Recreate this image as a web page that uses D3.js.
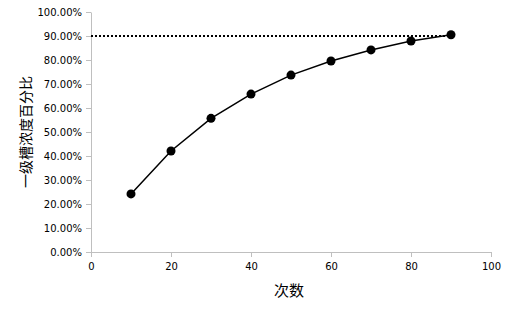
<!DOCTYPE html>
<html>
<head>
<meta charset="utf-8">
<script src="https://cdn.jsdelivr.net/npm/d3@7"></script>
<style>
  body { margin: 0; background: #fff; }
  svg text { font-family: "DejaVu Sans", sans-serif; }
</style>
</head>
<body>
<svg id="chart"></svg>
<script>
// data
const runs = [10, 20, 30, 40, 50, 60, 70, 80, 90];
const percent = [24.2, 42.1, 55.7, 65.8, 73.7, 79.6, 84.2, 87.9, 90.5];
const target = 90;
const xTicks = [0, 20, 40, 60, 80, 100];
const yTicks = [0, 10, 20, 30, 40, 50, 60, 70, 80, 90, 100];
const xTitle = "次数";
const yTitle = "一级槽浓度百分比";

const width = 508, height = 314;
const margin = { top: 12, right: 17, bottom: 62, left: 91 };

const svg = d3.select("#chart").attr("width", width).attr("height", height);
const plot = svg.append("g").attr("transform", `translate(${margin.left}, ${margin.top})`);

const plotWidth = width - margin.left - margin.right;
const plotHeight = height - margin.top - margin.bottom;

const xScale = d3.scaleLinear().domain([0, 100]).range([0, plotWidth]);
const yScale = d3.scaleLinear().domain([0, 100]).range([plotHeight, 0]);

const axisColor = "#bfbfbf";

// axes
const xAxisG = plot.append("g")
  .attr("transform", `translate(0, ${plotHeight})`)
  .call(d3.axisBottom(xScale).tickValues(xTicks).tickSize(5).tickPadding(6).tickSizeOuter(0));
const yAxisG = plot.append("g")
  .call(d3.axisLeft(yScale).tickValues(yTicks).tickSize(5).tickPadding(4).tickSizeOuter(0)
    .tickFormat((d) => d.toFixed(2) + "%"));

[xAxisG, yAxisG].forEach((g) => {
  g.selectAll("path, line").attr("stroke", axisColor);
  g.selectAll("text").attr("fill", "#000").style("font-size", "10px");
});

// target line
plot.append("line")
  .attr("x1", xScale(0))
  .attr("x2", xScale(runs[runs.length - 1]))
  .attr("y1", yScale(target))
  .attr("y2", yScale(target))
  .attr("stroke", "#000")
  .attr("stroke-width", 2)
  .attr("stroke-dasharray", "2,2");

// series
const series = runs.map((x, i) => ({ x, y: percent[i] }));
const lineGen = d3.line().x((d) => xScale(d.x)).y((d) => yScale(d.y));

plot.append("path")
  .datum(series)
  .attr("d", lineGen)
  .attr("fill", "none")
  .attr("stroke", "#000")
  .attr("stroke-width", 1.5);

plot.selectAll(".dot")
  .data(series)
  .join("circle")
  .attr("class", "dot")
  .attr("cx", (d) => xScale(d.x))
  .attr("cy", (d) => yScale(d.y))
  .attr("r", 4.5)
  .attr("fill", "#000");

// titles
svg.append("text")
  .attr("x", 289)
  .attr("y", 296)
  .attr("text-anchor", "middle")
  .style("font-family", "'Noto Sans CJK SC'")
  .style("font-size", "15px")
  .text(xTitle);

svg.append("text")
  .attr("transform", `translate(31, ${margin.top + plotHeight / 2}) rotate(-90)`)
  .attr("text-anchor", "middle")
  .style("font-family", "'Noto Sans CJK SC'")
  .style("font-size", "14px")
  .text(yTitle);
</script>
</body>
</html>
